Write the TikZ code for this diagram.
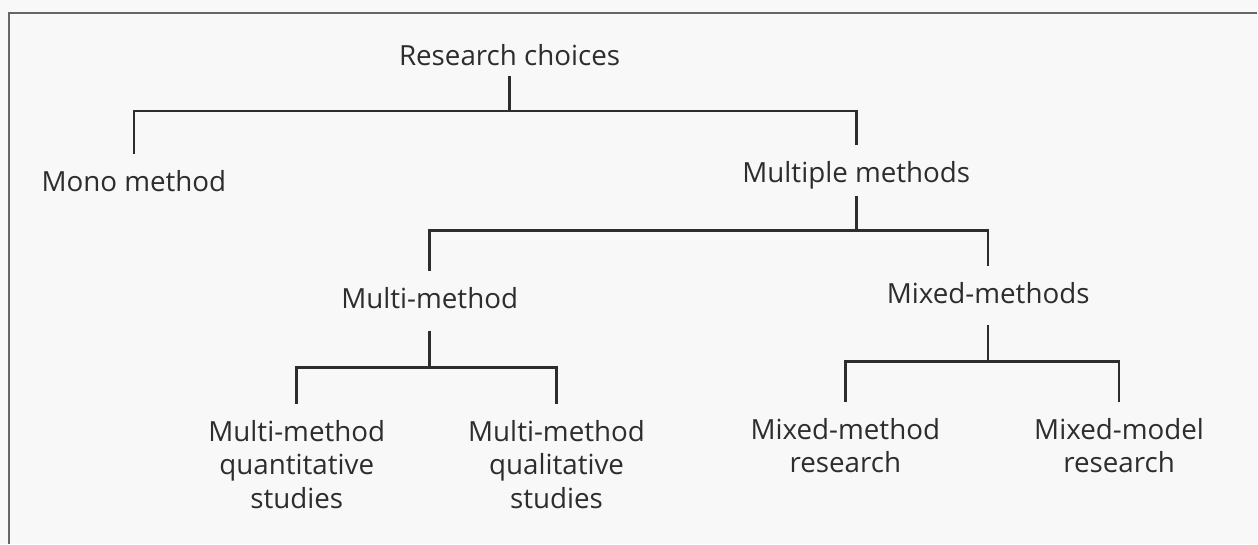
\documentclass[tikz,border=0pt]{standalone}
\usepackage{fontspec}
\setmainfont{Open Sans}
\usetikzlibrary{calc}
\definecolor{paper}{RGB}{248,248,248}
\definecolor{ink}{RGB}{45,45,45}
\tikzset{
	every node/.style={
		font=\fontsize{15.8}{19.3}\selectfont
	},
	choice/.style={
		shape=rectangle,
		anchor=north,
		inner sep=0pt,
		align=center,
		text=ink
	},
	fork/.style={
		draw=ink,
		line width=1.5pt,
		shorten <=0.32cm,
		shorten >=0.32cm
	},
	stem/.style={
		draw=ink,
		line width=1.5pt
	}
}

\begin{document}
\begin{tikzpicture}[x=0.02cm,y=-0.02cm]
  \fill[paper] (0,0) rectangle (1258,544);
  \draw[black!60, line width=1.2pt] (9,544) -- (9,13) -- (1258,13);

  \node[choice] (rc)    at (510,44)  {Research choices};
  \node[choice] (mono)  at (134,170) {Mono method};
  \node[choice] (mult)  at (857,161) {Multiple methods};
  \node[choice] (multi) at (430,287) {Multi-method};
  \node[choice] (mixed) at (989,282) {Mixed-methods};
  \node[choice] (quant) at (297,420) {Multi-method\\quantitative\\studies};
  \node[choice] (qual)  at (557,420) {Multi-method\\qualitative\\studies};
  \node[choice] (mxm)   at (846,418) {Mixed-method\\research};
  \node[choice] (mmod)  at (1120,418) {Mixed-model\\research};

  % bars of the forks
  \coordinate (bar1) at (510,111);
  \coordinate (bar2) at (857,231);
  \coordinate (bar3) at (430,368);
  \coordinate (bar4) at (989,362);

  \draw[stem, shorten <=0.2cm]  (rc.south)    -- (bar1);
  \draw[stem, shorten <=0.14cm] (mult.south)  -- (bar2);
  \draw[stem, shorten <=0.44cm] (multi.south) -- (bar3);
  \draw[stem, shorten <=0.42cm] (mixed.south) -- (bar4);

  \draw[fork] (mono.north)  |- (bar1) -| (mult.north);
  \draw[fork] (multi.north) |- (bar2) -| (mixed.north);
  \draw[fork] (quant.north) |- (bar3) -| (qual.north);
  \draw[fork] (mxm.north)   |- (bar4) -| (mmod.north);
\end{tikzpicture}
\end{document}
